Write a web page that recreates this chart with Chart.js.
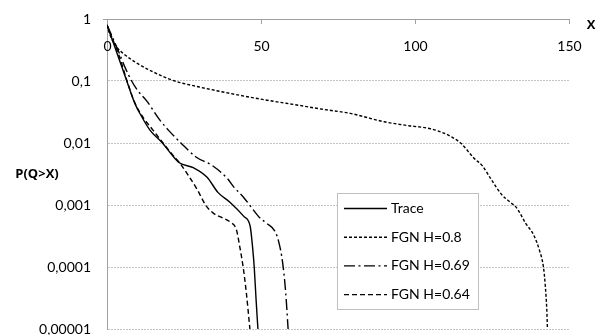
<!DOCTYPE html>
<html>
<head>
<meta charset="utf-8">
<script src="https://cdn.jsdelivr.net/npm/chart.js@4.4.1/dist/chart.umd.min.js"></script>
<style>
  html, body { margin: 0; padding: 0; background: #fff; }
  #wrap { width: 601px; height: 335px; }
</style>
</head>
<body>
<div id="wrap"><canvas id="tailChart" width="601" height="335"></canvas></div>
<script>
// Queue tail probability P(Q>X) for the trace and three FGN models
const seriesNames = ['Trace', 'FGN H=0.8', 'FGN H=0.69', 'FGN H=0.64'];

const traceX = [0, 2, 4, 6, 9, 11, 14, 18, 21, 23.5, 28, 32.5, 36, 40, 44.5, 46.5, 47.3, 47.8, 48.4, 49];
const traceP = [0.8, 0.42, 0.22, 0.115, 0.044, 0.028, 0.016, 0.01, 0.0065, 0.0048, 0.004, 0.0028, 0.0016, 0.0011, 0.00065, 0.00045, 0.0002, 0.0001, 0.00003, 0.00001];

const h80X = [0, 1, 3, 6, 10, 15, 22, 30, 40, 52, 63, 70, 79, 90, 98, 105, 110, 112.5, 115, 119, 122, 124.5, 128, 131, 133, 136, 138.5, 140.5, 141.7, 142.3, 142.8, 143];
const h80P = [0.8, 0.55, 0.36, 0.26, 0.19, 0.14, 0.1, 0.08, 0.063, 0.049, 0.04, 0.035, 0.03, 0.022, 0.019, 0.017, 0.014, 0.012, 0.0098, 0.0058, 0.0042, 0.0027, 0.0015, 0.0011, 0.0009, 0.0005, 0.00033, 0.00018, 0.0001, 0.00005, 0.00002, 0.00001];

const h69X = [0, 2, 4, 6, 8, 10, 13, 17, 20, 24, 29, 34, 39, 41, 44.5, 47, 49.5, 52, 54.5, 55.8, 57, 58, 58.8];
const h69P = [0.8, 0.48, 0.28, 0.16, 0.1, 0.07, 0.047, 0.024, 0.016, 0.01, 0.0059, 0.0044, 0.0027, 0.002, 0.0013, 0.0009, 0.00063, 0.0005, 0.00038, 0.00025, 0.00012, 0.00004, 0.00001];

const h64X = [0, 2, 4, 6.5, 9, 11.7, 15, 18.2, 21, 23.7, 27, 29.5, 32, 34.5, 37.5, 40, 42, 43.2, 44.2, 45.2, 46.4];
const h64P = [0.8, 0.45, 0.25, 0.1, 0.045, 0.026, 0.016, 0.01, 0.0067, 0.0047, 0.0027, 0.0017, 0.001, 0.00074, 0.00062, 0.00053, 0.0004, 0.0002, 0.0001, 0.00004, 0.00001];

const xTicks = [0, 50, 100, 150];
const xTickLabels = ['0', '50', '100', '150'];
const yTickValues = [0.00001, 0.0001, 0.001, 0.01, 0.1, 1];
const yTickLabels = ['0,00001', '0,0001', '0,001', '0,01', '0,1', '1'];

const FONT = 'Lato, "Open Sans", sans-serif';
const BOLD_FONT = '"Open Sans", "DejaVu Sans", sans-serif';
const axisGrey = '#a0a0a0';

const toPoints = (xs, ps) => xs.map((x, i) => ({ x: x, y: ps[i] }));

const lineStyle = (dash) => ({
    borderColor: '#000',
    borderWidth: 1.4,
    borderDash: dash,
    pointRadius: 0,
    fill: false,
    cubicInterpolationMode: 'monotone'
});

const datasets = [
    { label: seriesNames[0], data: toPoints(traceX, traceP), ...lineStyle([]) },
    { label: seriesNames[1], data: toPoints(h80X, h80P), ...lineStyle([3, 2]) },
    { label: seriesNames[2], data: toPoints(h69X, h69P), ...lineStyle([11, 3.5, 2, 3.5]) },
    { label: seriesNames[3], data: toPoints(h64X, h64P), ...lineStyle([5, 3]) }
];

// Top axis ticks/labels, axis titles and the boxed legend
const decorPlugin = {
    id: 'decor',
    afterDraw(chart) {
        const { ctx, chartArea } = chart;
        const x = chart.scales.x;
        ctx.save();

        ctx.strokeStyle = axisGrey;
        ctx.lineWidth = 1;
        ctx.setLineDash([]);
        ctx.font = '14px ' + FONT;
        ctx.fillStyle = '#000';
        ctx.textAlign = 'center';
        ctx.textBaseline = 'middle';
        xTicks.forEach((v, i) => {
            const px = Math.round(x.getPixelForValue(v)) + 0.5;
            if (v > 0) {
                ctx.beginPath();
                ctx.moveTo(px, chartArea.top);
                ctx.lineTo(px, chartArea.top + 5);
                ctx.stroke();
            }
            ctx.fillText(xTickLabels[i], px, chartArea.top + 27);
        });
        // short stub left of the axis corner
        ctx.beginPath();
        ctx.moveTo(chartArea.left - 4, chartArea.top + 0.5);
        ctx.lineTo(chartArea.left, chartArea.top + 0.5);
        ctx.stroke();

        // axis titles
        ctx.font = 'bold 13px ' + BOLD_FONT;
        ctx.fillText('X', 591, 25);
        ctx.fillText('P(Q>X)', 37, 174);

        // legend
        const lx = 337.5, ly = 193.5, lw = 141, lh = 116;
        ctx.fillStyle = '#fff';
        ctx.fillRect(lx, ly, lw, lh);
        ctx.strokeStyle = '#bfbfbf';
        ctx.strokeRect(lx, ly, lw, lh);
        ctx.font = '14px ' + FONT;
        ctx.textAlign = 'left';
        chart.data.datasets.forEach((ds, i) => {
            const yy = 208.5 + i * 28.7;
            ctx.strokeStyle = ds.borderColor;
            ctx.lineWidth = ds.borderWidth;
            ctx.setLineDash(ds.borderDash);
            ctx.beginPath();
            ctx.moveTo(344, yy);
            ctx.lineTo(387, yy);
            ctx.stroke();
            ctx.fillStyle = '#000';
            ctx.fillText(ds.label, 391, yy);
        });
        ctx.restore();
    }
};

new Chart(document.getElementById('tailChart'), {
    type: 'line',
    data: { datasets: datasets },
    plugins: [decorPlugin],
    options: {
        responsive: false,
        animation: false,
        events: [],
        layout: { padding: { left: 0, right: 32, top: 0, bottom: 6 } },
        plugins: {
            legend: { display: false },
            tooltip: { enabled: false }
        },
        scales: {
            x: {
                type: 'linear',
                position: 'top',
                min: 0,
                max: 150,
                ticks: { display: false, stepSize: 50 },
                grid: { display: false },
                border: { display: true, color: axisGrey, width: 1 },
                afterFit: (scale) => { scale.height = 19; }
            },
            y: {
                type: 'logarithmic',
                position: 'left',
                min: 0.00001,
                max: 1,
                afterBuildTicks: (scale) => {
                    scale.ticks = yTickValues.map(v => ({ value: v }));
                },
                ticks: {
                    padding: 16,
                    color: '#000',
                    font: { family: FONT, size: 14 },
                    callback: (value) => yTickLabels[yTickValues.indexOf(value)]
                },
                grid: {
                    drawTicks: false,
                    color: (c) => (c.tick && c.tick.value === 1) ? 'rgba(0,0,0,0)' : '#c4c4c4'
                },
                border: { display: true, color: axisGrey, width: 1, dash: [2, 1] },
                afterFit: (scale) => {
                    // fixed axis width; labels fit inside the outer margins already
                    scale.width = 107;
                    scale.paddingTop = 0;
                    scale.paddingBottom = 0;
                }
            }
        }
    }
});
</script>
</body>
</html>
